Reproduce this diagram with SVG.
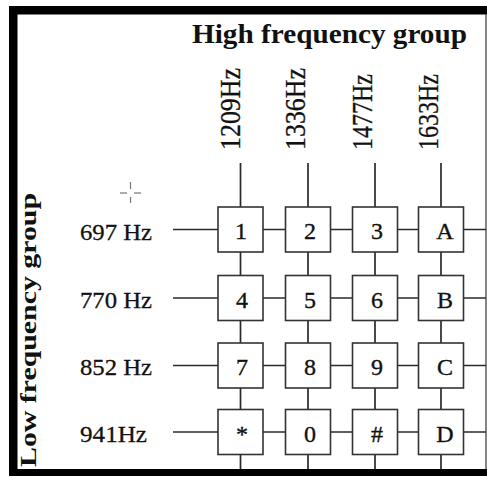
<svg xmlns="http://www.w3.org/2000/svg" width="487" height="478" viewBox="0 0 487 478">
<style>
.frame{fill:#000}
.wire{stroke:#2a2a2a;stroke-width:1.7;fill:none}
.box{fill:#fff;stroke:#333;stroke-width:1.6}
.key{font-family:"Liberation Serif","Times New Roman",serif;font-size:24px;fill:#111;stroke:#111;stroke-width:0.35;text-anchor:middle}
.freq{font-family:"Liberation Serif","Times New Roman",serif;font-size:24px;fill:#111;stroke:#111;stroke-width:0.3}
.vfreq{font-family:"Liberation Serif","Times New Roman",serif;font-size:29px;fill:#111;stroke:#111;stroke-width:0.3}
.title{font-family:"Liberation Serif","Times New Roman",serif;font-weight:bold;fill:#111}
</style>
<rect width="487" height="478" fill="#fff"/>
<g id="frame">
<rect class="frame" x="9" y="6" width="478" height="8.5"/>
<rect class="frame" x="9" y="6" width="8.5" height="470"/>
<rect class="frame" x="9" y="469" width="478" height="7"/>
<line x1="486" y1="14" x2="486" y2="469" stroke="#333" stroke-width="1.2"/>
</g>
<g id="titles">
<text class="title" x="192" y="43" font-size="27" textLength="275" lengthAdjust="spacingAndGlyphs">High frequency group</text>
<text class="title" transform="translate(36,467) rotate(-90)" font-size="23" textLength="274" lengthAdjust="spacingAndGlyphs">Low frequency group</text>
</g>
<g id="col-labels">
<text class="vfreq" transform="translate(240,150) rotate(-90)" textLength="82" lengthAdjust="spacingAndGlyphs">1209Hz</text>
<text class="vfreq" transform="translate(305,150) rotate(-90)" textLength="82" lengthAdjust="spacingAndGlyphs">1336Hz</text>
<text class="vfreq" transform="translate(372,150) rotate(-90)" textLength="76" lengthAdjust="spacingAndGlyphs">1477Hz</text>
<text class="vfreq" transform="translate(438,150) rotate(-90)" textLength="76" lengthAdjust="spacingAndGlyphs">1633Hz</text>
</g>
<g id="row-labels">
<text class="freq" x="80" y="240" textLength="72" lengthAdjust="spacingAndGlyphs">697 Hz</text>
<text class="freq" x="80" y="308" textLength="72" lengthAdjust="spacingAndGlyphs">770 Hz</text>
<text class="freq" x="80" y="375" textLength="72" lengthAdjust="spacingAndGlyphs">852 Hz</text>
<text class="freq" x="80" y="442" textLength="67" lengthAdjust="spacingAndGlyphs">941Hz</text>
</g>
<g id="mark" stroke="#777" stroke-width="1.2">
<line x1="120" y1="193" x2="127" y2="193"/>
<line x1="134" y1="193" x2="141" y2="193"/>
<line x1="130.5" y1="182" x2="130.5" y2="189"/>
<line x1="130.5" y1="197" x2="130.5" y2="203"/>
</g>
<g id="connectors" class="wire">
<line x1="240.5" y1="163" x2="240.5" y2="469"/>
<line x1="308" y1="163" x2="308" y2="469"/>
<line x1="375" y1="163" x2="375" y2="469"/>
<line x1="441" y1="163" x2="441" y2="469"/>
<line x1="173" y1="229.5" x2="486" y2="229.5"/>
<line x1="173" y1="298" x2="486" y2="298"/>
<line x1="173" y1="365.5" x2="486" y2="365.5"/>
<line x1="173" y1="432" x2="486" y2="432"/>
</g>
<g id="key-1"><rect class="box" x="218" y="207" width="45" height="45"/><text class="key" x="241" y="239">1</text></g>
<g id="key-2"><rect class="box" x="285.5" y="207" width="45" height="45"/><text class="key" x="310" y="239">2</text></g>
<g id="key-3"><rect class="box" x="352.5" y="207" width="45" height="45"/><text class="key" x="377" y="239">3</text></g>
<g id="key-A"><rect class="box" x="418.5" y="207" width="45" height="45"/><text class="key" x="445" y="239">A</text></g>
<g id="key-4"><rect class="box" x="218" y="275.5" width="45" height="45"/><text class="key" x="242" y="308">4</text></g>
<g id="key-5"><rect class="box" x="285.5" y="275.5" width="45" height="45"/><text class="key" x="310" y="308">5</text></g>
<g id="key-6"><rect class="box" x="352.5" y="275.5" width="45" height="45"/><text class="key" x="377" y="308">6</text></g>
<g id="key-B"><rect class="box" x="418.5" y="275.5" width="45" height="45"/><text class="key" x="445" y="308">B</text></g>
<g id="key-7"><rect class="box" x="218" y="343" width="45" height="45"/><text class="key" x="242" y="375">7</text></g>
<g id="key-8"><rect class="box" x="285.5" y="343" width="45" height="45"/><text class="key" x="310" y="375">8</text></g>
<g id="key-9"><rect class="box" x="352.5" y="343" width="45" height="45"/><text class="key" x="377" y="375">9</text></g>
<g id="key-C"><rect class="box" x="418.5" y="343" width="45" height="45"/><text class="key" x="445" y="375">C</text></g>
<g id="key-star"><rect class="box" x="218" y="409.5" width="45" height="45"/><text class="key" x="242" y="442">*</text></g>
<g id="key-0"><rect class="box" x="285.5" y="409.5" width="45" height="45"/><text class="key" x="310" y="442">0</text></g>
<g id="key-hash"><rect class="box" x="352.5" y="409.5" width="45" height="45"/><text class="key" x="377" y="442">#</text></g>
<g id="key-D"><rect class="box" x="418.5" y="409.5" width="45" height="45"/><text class="key" x="445" y="442">D</text></g>
</svg>
